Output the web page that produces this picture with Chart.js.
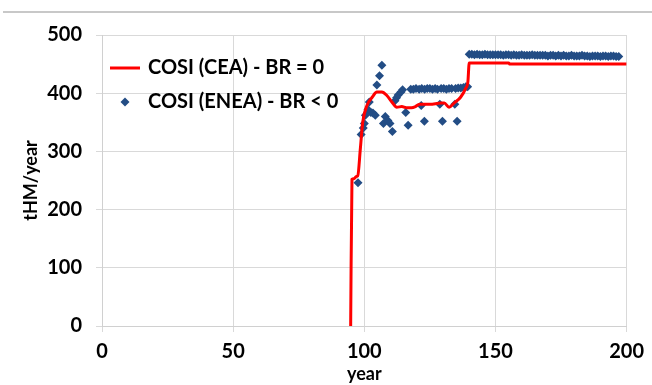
<!DOCTYPE html>
<html><head><meta charset="utf-8">
<script src="https://cdn.jsdelivr.net/npm/chart.js@4.4.1/dist/chart.umd.min.js"></script>
<style>html,body{margin:0;padding:0;background:#fff}#wrap{width:652px;height:385px;position:relative}</style>
</head><body><div id="wrap"><canvas id="c" width="652" height="385"></canvas></div>
<script>
// ---- data ----
const xTicks = [0, 50, 100, 150, 200];
const yTicks = [0, 100, 200, 300, 400, 500];
const seriesNames = ['COSI (CEA) - BR = 0', 'COSI (ENEA) - BR < 0'];

const ceaYears  = [94.8, 95.3, 96.0, 97.0, 97.5, 98.5, 99.4, 101.0, 103.0, 104.8, 106.7, 108.6, 110.5, 112.4, 114.3, 116.0, 118.0, 119.5, 121.0, 125.0, 129.2, 130.5, 132.3, 134.2, 136.7, 138.6, 139.5, 140.0, 155.0, 155.5, 200.0];
const ceaValues = [0,    252,  253,  257,  258,  305,  350,  379,   393,   402,   402,   396,   385,   376,   377,   375,   375,   377,   381,   381,   383,   383,   376,   383,   393,   408,   420,   452,   452,   450,   450];

const eneaYears  = [97.6, 98.8, 99.6, 100.0, 100.4, 101.4, 101.9, 102.5, 103.3, 104.2, 104.8, 105.8, 106.7, 107.3, 108.0, 109.0, 109.8, 110.7, 111.7, 112.3, 112.9, 114.0, 114.6, 115.8, 116.7, 117.7, 118.7, 119.7, 120.9, 121.7, 121.9, 122.9, 123.0, 124.0, 125.0, 126.0, 127.0, 127.9, 128.8, 129.3, 129.8, 130.3, 131.3, 132.3, 133.3, 134.5, 134.8, 135.4, 135.8, 136.8, 137.8, 138.7, 139.4,
  140, 141, 142, 143, 144, 145, 146, 147, 148, 149, 150, 151, 152, 153, 154, 155, 156, 157, 158, 159, 160, 161, 162, 163, 164, 165, 166, 167, 168, 169, 170, 171, 172, 173, 174, 175, 176, 177, 178, 179, 180, 181, 182, 183, 184, 185, 186, 187, 188, 189, 190, 191, 192, 193, 194, 195, 196, 197];
const eneaValues = [246, 329, 340, 348, 362, 372, 385, 367, 366, 362, 414, 430, 448, 348, 360, 353, 348, 334, 387, 392, 397, 402, 406, 367, 345, 407, 407, 408, 407, 379, 408, 352, 407, 408, 408, 407, 408, 407, 381, 408, 352, 408, 407, 408, 408, 381, 408, 352, 409, 409, 410, 411, 411,
  467, 467, 466, 467, 466, 466, 467, 466, 466, 466, 466, 466, 466, 465, 466, 466, 465, 466, 465, 465, 466, 465, 465, 465, 466, 465, 465, 465, 465, 465, 464, 465, 465, 464, 465, 464, 465, 464, 464, 465, 464, 464, 464, 465, 464, 464, 463, 464, 464, 464, 463, 464, 464, 463, 464, 464, 463, 463];

const RED = '#ff0000';
const BLUE = '#234d85';
const FONT = 'Lato';

const ceaPts = ceaYears.map((x, i) => ({x, y: ceaValues[i]}));
const eneaPts = eneaYears.map((x, i) => ({x, y: eneaValues[i]}));

const frameAndLegend = {
  id: 'frameAndLegend',
  beforeDraw(chart) {
    const ctx = chart.ctx;
    ctx.save();
    ctx.fillStyle = '#fff';
    ctx.fillRect(0, 0, chart.width, chart.height);
    ctx.strokeStyle = '#c8c8c8';
    ctx.lineWidth = 2;
    ctx.beginPath(); ctx.moveTo(3, 12); ctx.lineTo(652, 12); ctx.stroke();
    ctx.restore();
  },
  afterDraw(chart) {
    const ctx = chart.ctx;
    ctx.save();
    ctx.font = 'bold 20px ' + FONT;
    ctx.fillStyle = '#000';
    ctx.textBaseline = 'middle';
    ctx.textAlign = 'left';
    ctx.strokeStyle = RED; ctx.lineWidth = 3;
    ctx.beginPath(); ctx.moveTo(110, 68); ctx.lineTo(140, 68); ctx.stroke();
    ctx.fillText(seriesNames[0], 148, 68);
    ctx.fillStyle = BLUE;
    ctx.beginPath(); ctx.moveTo(125, 97.5); ctx.lineTo(129.5, 102); ctx.lineTo(125, 106.5); ctx.lineTo(120.5, 102); ctx.closePath(); ctx.fill();
    ctx.fillStyle = '#000';
    ctx.fillText(seriesNames[1], 148, 102);
    ctx.restore();
  }
};

new Chart(document.getElementById('c'), {
  type: 'scatter',
  data: {
    datasets: [
      {label: seriesNames[1], data: eneaPts, showLine: false, pointStyle: 'rectRot', pointRadius: 4.5, pointBackgroundColor: BLUE, pointBorderColor: BLUE, pointBorderWidth: 0, order: 2},
      {label: seriesNames[0], data: ceaPts, showLine: true, borderColor: RED, borderWidth: 3, pointRadius: 0, cubicInterpolationMode: 'monotone', order: 1}
    ]
  },
  options: {
    responsive: false,
    animation: false,
    devicePixelRatio: 1,
    layout: {padding: {top: 35, right: 20, left: 0, bottom: 0}},
    plugins: {legend: {display: false}, tooltip: {enabled: false}},
    scales: {
      x: {
        type: 'linear', min: 0, max: 200,
        afterBuildTicks: s => { s.ticks = xTicks.map(v => ({value: v})); },
        afterFit: s => { s.height = 59; },
        grid: {color: '#d9d9d9', lineWidth: 1, tickLength: 6, drawTicks: true},
        border: {color: '#d0d0d0'},
        ticks: {color: '#000', font: {family: FONT, weight: 'bold', size: 20}, padding: 8, maxRotation: 0},
        title: {display: true, text: 'year', color: '#000', font: {family: FONT, weight: 'bold', size: 18}, padding: {top: 0, bottom: 0}}
      },
      y: {
        type: 'linear', min: 0, max: 500,
        afterBuildTicks: s => { s.ticks = yTicks.map(v => ({value: v})); },
        afterFit: s => { s.width = 102; },
        grid: {color: '#d9d9d9', lineWidth: 1, tickLength: 6, drawTicks: true},
        border: {color: '#d0d0d0'},
        ticks: {color: '#000', font: {family: FONT, weight: 'bold', size: 20}, padding: 14},
        title: {display: true, text: 'tHM/year', color: '#000', font: {family: FONT, weight: 'bold', size: 18}, padding: {top: 20, bottom: 0}}
      }
    }
  },
  plugins: [frameAndLegend]
});
</script>
</body></html>
